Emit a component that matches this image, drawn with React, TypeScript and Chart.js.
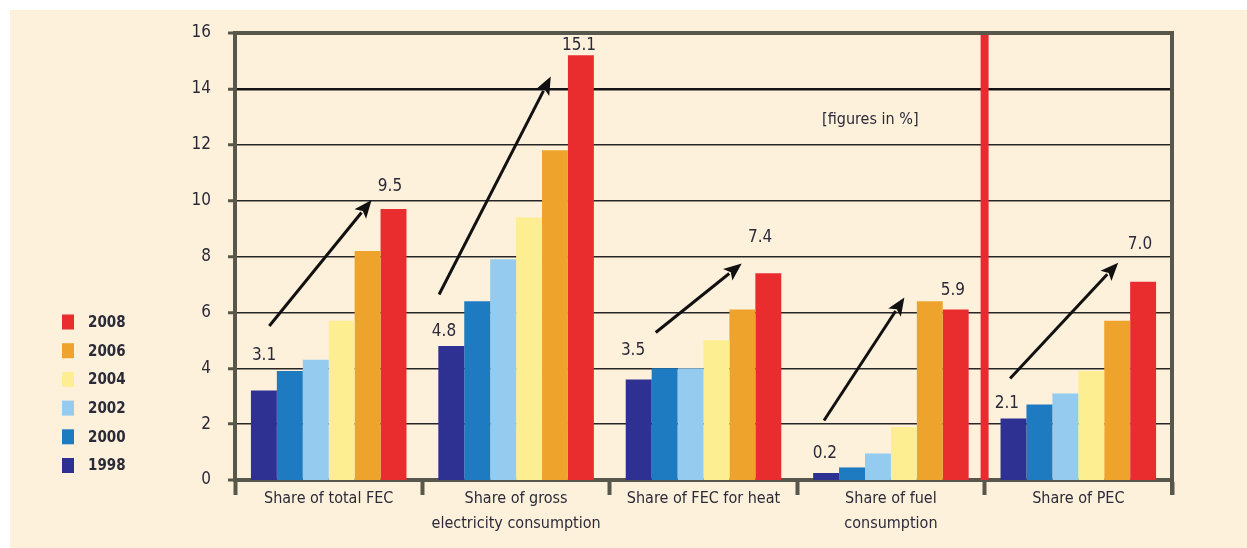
import React, { useEffect, useRef } from 'react';
import { Chart, registerables } from 'chart.js';

Chart.register(...registerables);

// ---------- data ----------
const categories: string[][] = [
  ['Share of total FEC'],
  ['Share of gross', 'electricity consumption'],
  ['Share of FEC for heat'],
  ['Share of fuel', 'consumption'],
  ['Share of PEC'],
];
const years = ['1998', '2000', '2002', '2004', '2006', '2008'];
const v1998 = [3.2, 4.8, 3.6, 0.25, 2.2];
const v2000 = [3.9, 6.4, 4.0, 0.45, 2.7];
const v2002 = [4.3, 7.9, 4.0, 0.95, 3.1];
const v2004 = [5.7, 9.4, 5.0, 1.9, 3.9];
const v2006 = [8.2, 11.8, 6.1, 6.4, 5.7];
const v2008 = [9.7, 15.2, 7.4, 6.1, 7.1];
const seriesValues = [v1998, v2000, v2002, v2004, v2006, v2008];
const seriesColors = ['#2e3192', '#1f7bc1', '#95cbef', '#fcee91', '#eea42c', '#e92d2f'];

const yTicksMin = 0;
const yTicksMax = 16;
const yTickStep = 2;

// value annotations: text, category position (index + offset), value position
const noteTexts = ['3.1', '9.5', '4.8', '15.1', '3.5', '7.4', '0.2', '5.9', '2.1', '7.0'];
const noteX = [-0.345, 0.327, 0.615, 1.336, 1.624, 2.302, 2.648, 3.331, 3.619, 4.329];
const noteY = [4.46, 10.49, 5.3, 15.54, 4.64, 8.66, 0.95, 6.79, 2.74, 8.44];

// trend arrows: from (category pos, value) to (category pos, value)
const arrowFromX = [-0.317, 0.589, 1.745, 2.643, 3.636];
const arrowFromY = [5.51, 6.64, 5.28, 2.13, 3.63];
const arrowToX = [0.229, 1.185, 2.204, 3.072, 4.213];
const arrowToY = [10.02, 14.44, 7.75, 6.53, 7.78];

const unitNote = '[figures in %]';
const unitNoteX = 2.89;
const unitNoteY = 12.9;

const separatorAt = 3.5; // red divider between category 4 and 5

// ---------- styles ----------
const FONT = "'DejaVu Sans Condensed', 'DejaVu Sans', sans-serif";
const TEXT = '#2a2a38';
const AXIS = '#57584b';
const GRID = '#262626';
const RED = '#ea2a30';

export default function App() {
  const ref = useRef<HTMLCanvasElement>(null);

  useEffect(() => {
    const overlay = {
      id: 'overlay',
      beforeDatasetsDraw(chart: any) {
        const { ctx, chartArea } = chart;
        const xs = chart.scales.x;
        const x = xs.getPixelForValue(separatorAt);
        ctx.save();
        ctx.strokeStyle = RED;
        ctx.lineWidth = 8;
        ctx.beginPath();
        ctx.moveTo(x, chartArea.top);
        ctx.lineTo(x, chartArea.bottom);
        ctx.stroke();
        ctx.restore();
      },
      afterDraw(chart: any) {
        const { ctx, chartArea } = chart;
        const xs = chart.scales.x;
        const ys = chart.scales.y;
        const px = (v: number) => xs.getPixelForValue(0) + v * (xs.getPixelForValue(1) - xs.getPixelForValue(0));
        ctx.save();
        // top & right frame
        ctx.strokeStyle = AXIS;
        ctx.lineWidth = 4;
        ctx.beginPath();
        ctx.moveTo(chartArea.left - 2, chartArea.top);
        ctx.lineTo(chartArea.right, chartArea.top);
        ctx.lineTo(chartArea.right, chartArea.bottom + 15);
        ctx.stroke();

        // arrows
        ctx.strokeStyle = '#111';
        ctx.fillStyle = '#111';
        for (let i = 0; i < arrowFromX.length; i++) {
          const x1 = px(arrowFromX[i]);
          const y1 = ys.getPixelForValue(arrowFromY[i]);
          const x2 = px(arrowToX[i]);
          const y2 = ys.getPixelForValue(arrowToY[i]);
          const ang = Math.atan2(y2 - y1, x2 - x1);
          const head = 18;
          const hw = 7.5;
          const bx = x2 - head * Math.cos(ang);
          const by = y2 - head * Math.sin(ang);
          ctx.lineWidth = 3;
          ctx.beginPath();
          ctx.moveTo(x1, y1);
          ctx.lineTo(bx + 2 * Math.cos(ang), by + 2 * Math.sin(ang));
          ctx.stroke();
          ctx.beginPath();
          ctx.moveTo(x2, y2);
          ctx.lineTo(bx - hw * Math.sin(ang), by + hw * Math.cos(ang));
          ctx.lineTo(bx + 4 * Math.cos(ang), by + 4 * Math.sin(ang));
          ctx.lineTo(bx + hw * Math.sin(ang), by - hw * Math.cos(ang));
          ctx.closePath();
          ctx.fill();
        }

        // value notes
        ctx.fillStyle = TEXT;
        ctx.font = `17px ${FONT}`;
        ctx.textAlign = 'center';
        ctx.textBaseline = 'middle';
        for (let i = 0; i < noteTexts.length; i++) {
          ctx.fillText(noteTexts[i], px(noteX[i]), ys.getPixelForValue(noteY[i]));
        }
        // unit note
        ctx.font = `16px ${FONT}`;
        ctx.fillText(unitNote, px(unitNoteX), ys.getPixelForValue(unitNoteY));

        // legend (newest on top)
        ctx.font = `bold 15px ${FONT}`;
        ctx.textAlign = 'left';
        const lx = 62;
        const ly0 = 322;
        const step = 28.7;
        for (let k = 0; k < years.length; k++) {
          const idx = years.length - 1 - k;
          const cy = ly0 + k * step;
          ctx.fillStyle = seriesColors[idx];
          ctx.fillRect(lx, cy - 7.5, 12, 15);
          ctx.fillStyle = TEXT;
          ctx.fillText(years[idx], lx + 26, cy + 1);
        }
        ctx.restore();
      },
    };

    const chart = new Chart(ref.current as HTMLCanvasElement, {
      type: 'bar',
      data: {
        labels: categories,
        datasets: years.map((y, i) => ({
          label: y,
          data: seriesValues[i],
          backgroundColor: seriesColors[i],
          borderWidth: 0,
          categoryPercentage: 0.83,
          barPercentage: 1.0,
        })),
      },
      options: {
        responsive: false,
        animation: false,
        devicePixelRatio: 1,
        layout: { padding: { left: 0, top: 33, right: 75, bottom: 0 } },
        plugins: {
          legend: { display: false },
          tooltip: { enabled: false },
        },
        scales: {
          x: {
            type: 'category',
            offset: true,
            afterFit: (s: any) => {
              s.height = 68;
            },
            grid: {
              offset: true,
              drawOnChartArea: false,
              drawTicks: true,
              tickLength: 15,
              tickWidth: 4,
              tickColor: AXIS,
            },
            border: { display: true, color: AXIS, width: 4 },
            ticks: {
              color: TEXT,
              font: { family: FONT, size: 16, lineHeight: 1.56 },
              padding: -9,
              maxRotation: 0,
              autoSkip: false,
            },
          },
          y: {
            min: yTicksMin,
            max: yTicksMax,
            afterFit: (s: any) => {
              s.width = 235;
            },
            grid: {
              color: (c: any) => (c.tick && c.tick.value === 14 ? '#151515' : GRID),
              lineWidth: (c: any) => {
                const v = c.tick ? c.tick.value : 0;
                if (v === 0 || v === 16) return 0;
                return v === 14 ? 2.5 : 1.5;
              },
              tickLength: 7,
              tickWidth: 3,
              tickColor: AXIS,
            },
            border: { display: true, color: AXIS, width: 4 },
            ticks: {
              stepSize: yTickStep,
              color: TEXT,
              padding: 17,
              font: { family: FONT, size: 17 },
            },
          },
        },
      },
      plugins: [overlay],
    } as any);

    return () => chart.destroy();
  }, []);

  return (
    <div style={{ position: 'fixed', left: 0, top: 0, width: 1247, height: 548, background: '#ffffff' }}>
      <div style={{ position: 'absolute', left: 10, top: 10, right: 0, bottom: 0, background: '#fef1dc' }} />
      <canvas
        ref={ref}
        width={1247}
        height={548}
        style={{ position: 'absolute', left: 0, top: 0, width: 1247, height: 548 }}
      />
    </div>
  );
}
